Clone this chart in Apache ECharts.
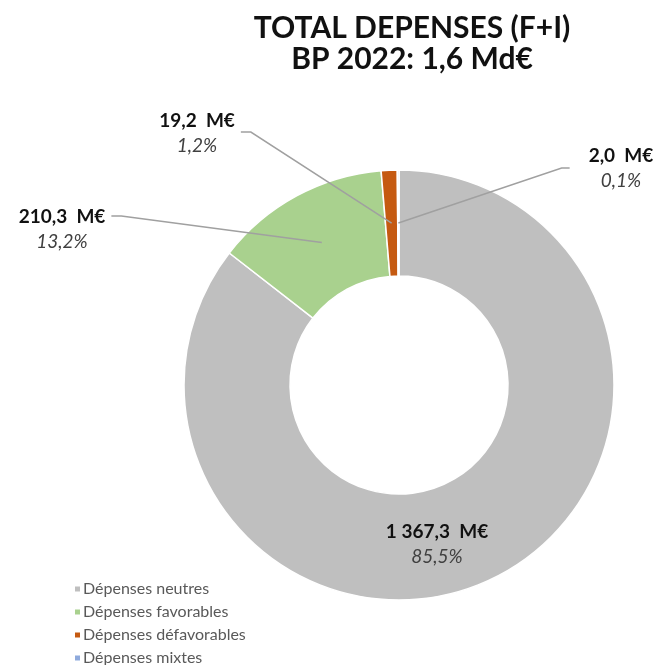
<!DOCTYPE html>
<html>
<head>
    <meta charset="utf-8">
    <title>Total dépenses BP 2022</title>
    <script src="https://cdn.jsdelivr.net/npm/echarts@6.0.0/dist/echarts.min.js"></script>
    <style>
        body {
            margin: 0;
            padding: 0;
            background: #fff;
            overflow: hidden;
        }

        #chart {
            width: 661px;
            height: 665px;
        }
    </style>
</head>
<body>
    <div id="chart"></div>

    <script>
        // données (M€)
        const categories = ['Dépenses neutres', 'Dépenses favorables', 'Dépenses défavorables', 'Dépenses mixtes'];
        const amounts = [1367.3, 210.3, 19.2, 2.0];
        const colors = ['#bfbfbf', '#a9d18e', '#c55a11', '#b4c7e7'];
        const legendColors = ['#bfbfbf', '#a9d18e', '#c55a11', '#8faadc'];

        const total = amounts.reduce((s, v) => s + v, 0);

        // placement des étiquettes (centre du bloc) et hauteur du trait de rappel
        const labelBoxes = [
            { x: 437, y: 544, lineDy: null },
            { x: 62, y: 229, lineDy: 9, side: 'left' },
            { x: 197, y: 133, lineDy: 21, side: 'left' },
            { x: 621, y: 168, lineDy: 22, side: 'right' }
        ];

        const CENTER = [399, 385];
        const RADIUS = [109, 215];

        function frNumber(v) {
            const parts = v.toFixed(1).split('.');
            const intPart = parts[0].replace(/\B(?=(\d{3})+(?!\d))/g, ' ');
            return intPart + ',' + parts[1];
        }

        const chart = echarts.init(document.getElementById('chart'));

        const pieData = categories.map((name, i) => ({ name: name, value: amounts[i] }));

        const option = {
            backgroundColor: '#fff',
            animation: false,
            title: {
                text: 'TOTAL DEPENSES (F+I)\nBP 2022: 1,6 Md€',
                left: 412,
                top: 13,
                padding: 0,
                textAlign: 'center',
                textStyle: {
                    fontFamily: 'Lato',
                    fontWeight: 'bold',
                    fontSize: 30,
                    lineHeight: 31,
                    color: '#111'
                }
            },
            legend: {
                orient: 'vertical',
                left: 68,
                top: 575,
                height: 140,
                itemWidth: 7,
                itemHeight: 7,
                itemGap: 5,
                icon: 'rect',
                textStyle: {
                    fontFamily: 'Lato',
                    fontSize: 16,
                    lineHeight: 18,
                    color: '#595959',
                    padding: [0, 0, 0, -3]
                },
                data: categories.map((name, i) => ({
                    name: name,
                    itemStyle: { color: legendColors[i] }
                }))
            },
            series: [{
                // anneau
                type: 'pie',
                center: CENTER,
                radius: RADIUS,
                startAngle: 90,
                clockwise: true,
                label: { show: false },
                labelLine: { show: false },
                itemStyle: {
                    borderColor: '#fff',
                    borderWidth: 1.5
                },
                data: pieData.map((d, i) => ({
                    name: d.name,
                    value: d.value,
                    itemStyle: { color: colors[i] }
                }))
            }, {
                // étiquettes et traits de rappel, au-dessus de l'anneau
                type: 'pie',
                z: 5,
                silent: true,
                center: CENTER,
                radius: RADIUS,
                startAngle: 90,
                clockwise: true,
                avoidLabelOverlap: false,
                itemStyle: {
                    color: 'rgba(0,0,0,0)',
                    borderWidth: 0
                },
                label: {
                    show: true,
                    position: 'outside',
                    formatter: p => '{v|' + frNumber(p.value) + '  M€}\n{p|' +
                        (p.value / total * 100).toFixed(1).replace('.', ',') + '%}',
                    rich: {
                        v: {
                            fontFamily: 'Lato',
                            fontWeight: 'bold',
                            fontSize: 19,
                            lineHeight: 25,
                            color: '#111'
                        },
                        p: {
                            fontFamily: 'Lato',
                            fontStyle: 'italic',
                            fontSize: 19,
                            lineHeight: 25,
                            color: '#404040'
                        }
                    }
                },
                labelLine: {
                    show: true,
                    length: 10,
                    length2: 10,
                    smooth: false,
                    minTurnAngle: 0,
                    lineStyle: {
                        color: '#a0a0a0',
                        width: 1.5
                    }
                },
                labelLayout: function (params) {
                    const box = labelBoxes[params.dataIndex];
                    const out = {
                        x: box.x,
                        y: box.y,
                        align: 'center',
                        verticalAlign: 'middle'
                    };
                    const pts = params.labelLinePoints;
                    if (box.lineDy !== null && pts) {
                        // départ : milieu de l'anneau, à l'angle médian du secteur
                        const dx = pts[0][0] - CENTER[0];
                        const dy = pts[0][1] - CENTER[1];
                        const r = Math.sqrt(dx * dx + dy * dy);
                        const mid = (RADIUS[0] + RADIUS[1]) / 2;
                        const start = [CENTER[0] + dx / r * mid, CENTER[1] + dy / r * mid];
                        const h = params.labelRect.height;
                        const w = params.labelRect.width;
                        const endY = box.y - h / 2 + box.lineDy;
                        let endX, elbowX;
                        if (box.side === 'left') {
                            endX = box.x + w / 2 + 6;
                            elbowX = endX + 10;
                        } else {
                            endX = box.x - w / 2 - 19;
                            elbowX = endX - 8;
                        }
                        out.labelLinePoints = [start, [elbowX, endY], [endX, endY]];
                    }
                    return out;
                },
                data: pieData.map((d, i) => ({
                    name: d.name,
                    value: d.value,
                    labelLine: { show: i !== 0 }
                }))
            }]
        };

        chart.setOption(option);

        window.addEventListener('resize', function () {
            chart.resize();
        });
    </script>
</body>
</html>
